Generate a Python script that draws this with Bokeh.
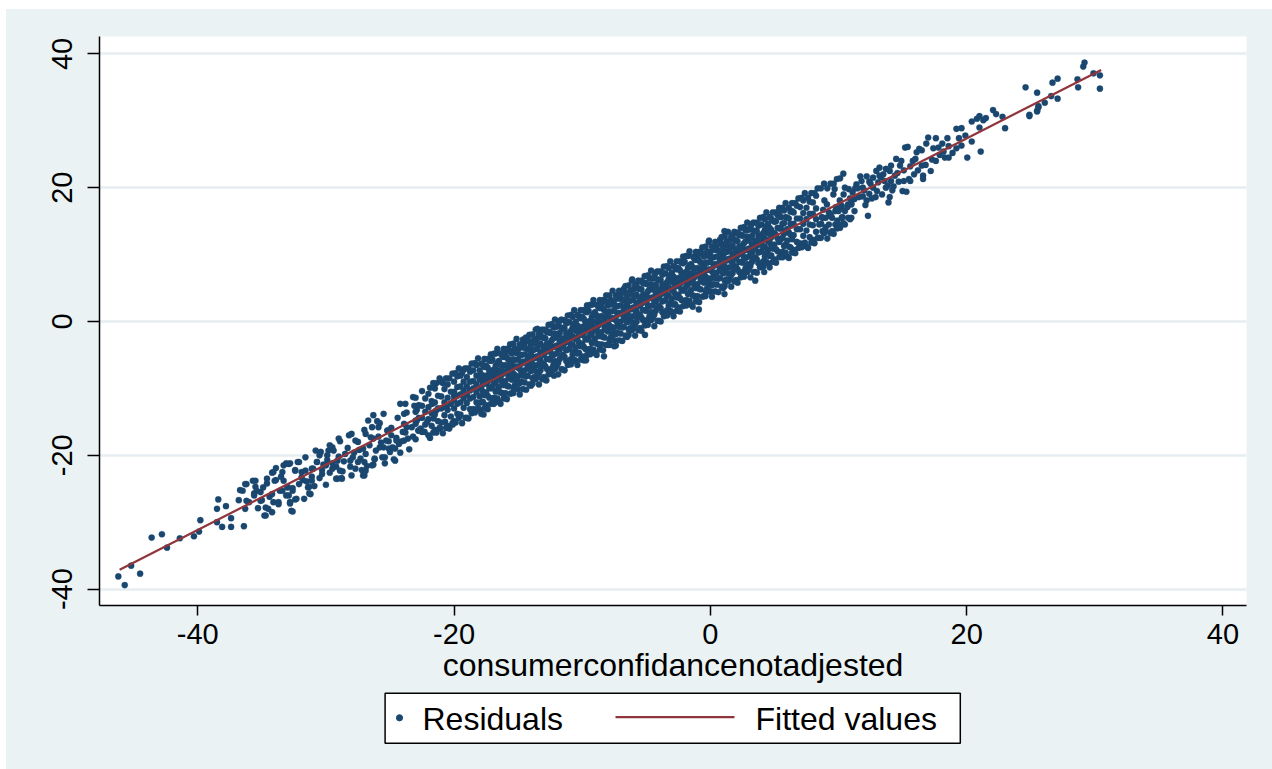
from bokeh.plotting import figure
from bokeh.models import ColumnDataSource, Range1d
from bokeh.layouts import column
from bokeh.embed import file_html
from bokeh.resources import INLINE
from bokeh.core.properties import value

# ---------------- data ----------------
x_label = "consumerconfidancenotadjested"
legend_labels = ["Residuals", "Fitted values"]
x_ticks = [-40, -20, 0, 20, 40]
x_tick_labels = ["-40", "-20", "0", "20", "40"]
y_ticks = [-40, -20, 0, 20, 40]
y_tick_labels = ["-40", "-20", "0", "20", "40"]

fit_x = [-46.1, 30.5]
fit_y = [-37.1, 37.6]

low_tail_x = [
    -46.2, -45.7, -45.2, -44.5, -43.6, -42.8, -42.4, -41.4, -40.3, -39.9, -39.8,
    -38.5, -38.1, -37.4, -36.4, -37.4, -38.5, -38.4, -37.8, -36.8, -36.3, -36.7,
    -35.7, -35.5, -35.1, -35.6, -35.0, -34.8, -34.2, -34.7, -34.6, -34.2, -33.9, -33.5,
    -33.3, -33.7, -33.1, -32.8, -32.7, -32.4, -33.0, -32.6, -32.4, -32.2, -32.8, -33.1,
    -31.8, -31.3, -31.3, -31.1, -31.1, -30.7, -30.5, -30.5, -30.3, -29.9, -29.8,
    -29.5, -29.2, -28.8, -29.2, -29.5, -28.5, -28.1, -28.0, -27.9, -27.7, -28.2,
    -27.2, -27.1, -26.9, -26.6, -26.9, -26.4, -26.1, -25.6, -25.5, -25.3, -25.2,
    -24.7, -24.8, -24.3, -24.0, -23.9, -23.3, -23.0, -22.8,
    -28.6, -27.5, -27.4, -26.3, -25.9, -25.0, -24.5, -24.2, -23.6, -23.7, -25.8, -30.0, -31.6,
    -31.9, -31.5, -30.9, -30.2, -29.7, -29.0, -28.7, -28.3, -27.8, -27.3, -26.8, -26.5,
    -26.2, -25.7, -25.4, -25.1, -24.9, -24.6, -24.1, -23.8, -23.5, -23.2, -22.9, -23.1,
    -24.4, -26.0, -27.0, -28.9, -30.8, -33.6, -34.4, -35.3, -36.0, -33.9, -31.7,
]
low_tail_y = [
    -38.1, -39.4, -36.5, -37.7, -32.3, -31.8, -33.8, -32.4, -32.1, -31.4, -29.7,
    -30.0, -30.7, -30.7, -30.6, -29.4, -28.0, -26.6, -27.6, -26.7, -24.3, -25.2,
    -23.8, -24.7, -25.5, -25.7, -26.7, -29.0, -28.5, -27.8, -24.2, -22.6, -23.7, -23.2,
    -21.5, -27.0, -26.0, -27.2, -28.3, -26.6, -24.7, -24.9, -22.2, -21.0, -21.2, -21.2,
    -23.7, -25.7, -24.7, -23.2, -22.0, -21.0, -20.0, -23.4, -22.2, -20.7, -19.3,
    -18.8, -23.5, -23.4, -21.7, -21.2, -19.8, -21.7, -23.0, -20.3, -17.8, -17.0,
    -22.2, -23.0, -19.8, -18.5, -16.8, -15.8, -19.3, -20.3, -18.8, -17.8, -16.3,
    -20.6, -18.8, -18.3, -16.5, -15.3, -15.8, -14.8, -16.3,
    -20.9, -21.0, -19.2, -21.4, -17.2, -19.5, -17.4, -19.6, -17.5, -13.6, -15.2, -24.4, -20.3,
    -22.5, -23.9, -24.6, -21.4, -22.6, -20.2, -22.4, -18.9, -19.6, -20.5, -21.6, -17.3,
    -20.6, -18.1, -21.2, -17.9, -15.9, -19.0, -17.9, -16.6, -19.1, -17.2, -13.2, -12.6,
    -14.4, -14.9, -16.2, -17.9, -19.3, -25.3, -26.2, -27.9, -27.0, -21.9, -26.5,
]

low_mid_x = [
    -36.5, -36.2, -35.5, -35.4, -35.6, -36.2, -36.3, -35.1, -34.7, -34.5, -34.9, -34.6,
    -34.1, -34.0, -34.2, -34.1, -33.7, -33.4, -33.3, -33.4, -32.9, -33.0, -32.6, -32.9,
    -32.8, -32.6, -32.3, -32.4, -32.1, -31.9, -31.6, -32.1, -31.4, -31.1, -31.2, -31.0,
    -30.7, -30.4, -30.3, -30.0, -29.9, -29.7, -29.4, -29.1, -29.5, -29.1, -28.75, -28.9,
    -29.0, -28.1, -27.7, -28.0, -27.5, -27.1, -27.0, -26.9, -27.0, -26.4, -26.3, -26.7,
    -26.3, -25.9, -25.8, -26.2, -25.4, -25.5, -25.2, -24.9, -24.6, -25.1, -24.5, -23.9,
    -24.2, -23.8, -23.7, -23.2, -22.9, -22.6, -22.3, -22.1, -21.6, -21.7, -21.1, -20.7,
    -21.4, -20.6, -20.0,
]
low_mid_y = [
    -25.3, -24.3, -23.8, -25.3, -26.0, -26.8, -28.0, -26.8, -29.0, -28.0, -24.8, -23.5,
    -22.5, -23.8, -25.8, -27.0, -27.3, -25.3, -23.8, -22.5, -21.3, -24.8, -25.3, -26.0,
    -27.0, -28.4, -26.5, -22.3, -21.0, -23.3, -22.3, -24.3, -24.8, -23.8, -25.8, -22.0,
    -21.0, -19.5, -22.8, -21.5, -20.0, -18.5, -19.3, -20.8, -22.0, -23.5, -23.5, -22.3,
    -17.5, -20.8, -22.0, -16.8, -18.0, -19.0, -21.0, -22.3, -23.0, -21.5, -17.5, -14.8,
    -14.0, -15.8, -18.8, -20.5, -20.3, -13.8, -16.3, -17.0, -20.8, -19.0, -17.8, -13.8,
    -12.3, -12.3, -15.8, -11.3, -14.8, -16.0, -16.5, -15.0, -14.5, -12.3, -16.0, -15.0,
    -13.3, -12.8, -11.1,
]

core_x = [
    -23.0, -22.75, -23.0, -22.75, -23.0, -22.75, -23.0,
    -22.5, -22.25, -22.5, -22.25, -22.5, -22.25, -22.5,
    -22.0, -21.75, -22.0, -21.75, -22.0, -21.75, -22.0,
    -21.5, -21.25, -21.5, -21.25, -21.5, -21.25, -21.5,
    -21.0, -20.75, -21.0, -20.75, -21.0, -20.75, -21.0,
    -20.5, -20.25, -20.5, -20.25, -20.5, -20.25, -20.5,
    -20.0, -19.75, -20.0, -19.75, -20.0, -19.75, -20.0, -19.75, -20.0, -19.75,
    -19.5, -19.25, -19.5, -19.25, -19.5, -19.25, -19.5, -19.25, -19.5, -19.25,
    -19.0, -18.75, -19.0, -18.75, -19.0, -18.75, -19.0, -18.75, -19.0, -18.75,
    -18.5, -18.25, -18.5, -18.25, -18.5, -18.25, -18.5, -18.25, -18.5, -18.25,
    -18.0, -17.75, -18.0, -17.75, -18.0, -17.75, -18.0, -17.75, -18.0, -17.75,
    -17.5, -17.25, -17.5, -17.25, -17.5, -17.25, -17.5, -17.25, -17.5, -17.25,
    -17.0, -16.75, -17.0, -16.75, -17.0, -16.75, -17.0, -16.75, -17.0, -16.75,
    -16.5, -16.25, -16.5, -16.25, -16.5, -16.25, -16.5, -16.25, -16.5, -16.25,
    -16.0, -15.75, -16.0, -15.75, -16.0, -15.75, -16.0, -15.75, -16.0, -15.75,
    -15.5, -15.25, -15.5, -15.25, -15.5, -15.25, -15.5, -15.25, -15.5, -15.25,
    -15.0, -14.75, -15.0, -14.75, -15.0, -14.75, -15.0, -14.75, -15.0, -14.75,
    -14.5, -14.25, -14.5, -14.25, -14.5, -14.25, -14.5, -14.25, -14.5, -14.25,
    -14.0, -13.75, -14.0, -13.75, -14.0, -13.75, -14.0, -13.75, -14.0, -13.75,
    -13.5, -13.25, -13.5, -13.25, -13.5, -13.25, -13.5, -13.25, -13.5, -13.25,
    -13.0, -12.75, -13.0, -12.75, -13.0, -12.75, -13.0, -12.75, -13.0, -12.75,
    -12.5, -12.25, -12.5, -12.25, -12.5, -12.25, -12.5, -12.25, -12.5, -12.25,
    -12.0, -11.75, -12.0, -11.75, -12.0, -11.75, -12.0, -11.75, -12.0, -11.75,
    -11.5, -11.25, -11.5, -11.25, -11.5, -11.25, -11.5, -11.25, -11.5, -11.25,
    -11.0, -10.75, -11.0, -10.75, -11.0, -10.75, -11.0, -10.75, -11.0, -10.75,
    -10.5, -10.25, -10.5, -10.25, -10.5, -10.25, -10.5, -10.25, -10.5, -10.25,
    -10.0, -9.75, -10.0, -9.75, -10.0, -9.75, -10.0, -9.75, -10.0, -9.75,
    -9.5, -9.25, -9.5, -9.25, -9.5, -9.25, -9.5, -9.25, -9.5, -9.25,
    -9.0, -8.75, -9.0, -8.75, -9.0, -8.75, -9.0, -8.75, -9.0, -8.75,
    -8.5, -8.25, -8.5, -8.25, -8.5, -8.25, -8.5, -8.25, -8.5, -8.25,
    -8.0, -7.75, -8.0, -7.75, -8.0, -7.75, -8.0, -7.75, -8.0, -7.75,
    -7.5, -7.25, -7.5, -7.25, -7.5, -7.25, -7.5, -7.25, -7.5, -7.25,
    -7.0, -6.75, -7.0, -6.75, -7.0, -6.75, -7.0, -6.75, -7.0, -6.75,
    -6.5, -6.25, -6.5, -6.25, -6.5, -6.25, -6.5, -6.25, -6.5, -6.25,
    -6.0, -5.75, -6.0, -5.75, -6.0, -5.75, -6.0, -5.75, -6.0, -5.75,
    -5.5, -5.25, -5.5, -5.25, -5.5, -5.25, -5.5, -5.25, -5.5, -5.25,
    -5.0, -4.75, -5.0, -4.75, -5.0, -4.75, -5.0, -4.75, -5.0, -4.75,
    -4.5, -4.25, -4.5, -4.25, -4.5, -4.25, -4.5, -4.25, -4.5, -4.25,
    -4.0, -3.75, -4.0, -3.75, -4.0, -3.75, -4.0, -3.75, -4.0, -3.75,
    -3.5, -3.25, -3.5, -3.25, -3.5, -3.25, -3.5, -3.25, -3.5, -3.25,
    -3.0, -2.75, -3.0, -2.75, -3.0, -2.75, -3.0, -2.75, -3.0, -2.75,
    -2.5, -2.25, -2.5, -2.25, -2.5, -2.25, -2.5, -2.25, -2.5, -2.25,
    -2.0, -1.75, -2.0, -1.75, -2.0, -1.75, -2.0, -1.75, -2.0, -1.75,
    -1.5, -1.25, -1.5, -1.25, -1.5, -1.25, -1.5, -1.25, -1.5, -1.25,
    -1.0, -0.75, -1.0, -0.75, -1.0, -0.75, -1.0, -0.75, -1.0, -0.75,
    -0.5, -0.25, -0.5, -0.25, -0.5, -0.25, -0.5, -0.25, -0.5, -0.25,
    0.0, 0.25, 0.0, 0.25, 0.0, 0.25, 0.0, 0.25, 0.0, 0.25,
    0.5, 0.75, 0.5, 0.75, 0.5, 0.75, 0.5, 0.75, 0.5, 0.75,
    1.0, 1.25, 1.0, 1.25, 1.0, 1.25, 1.0, 1.25, 1.0, 1.25,
    1.5, 1.75, 1.5, 1.75, 1.5, 1.75, 1.5, 1.75, 1.5, 1.75,
    2.0, 2.25, 2.0, 2.25, 2.0, 2.25, 2.0, 2.25, 2.0, 2.25,
    2.5, 2.75, 2.5, 2.75, 2.5, 2.75, 2.5, 2.75, 2.5, 2.75,
    3.0, 3.25, 3.0, 3.25, 3.0, 3.25, 3.0, 3.25, 3.0, 3.25,
    3.5, 3.75, 3.5, 3.75, 3.5, 3.75, 3.5, 3.75, 3.5, 3.75,
    4.0, 4.25, 4.0, 4.25, 4.0, 4.25, 4.0, 4.25, 4.0, 4.25,
    4.5, 4.75, 4.5, 4.75, 4.5, 4.75, 4.5, 4.75, 4.5, 4.75,
    5.0, 5.25, 5.0, 5.25, 5.0, 5.25, 5.0, 5.25,
    5.5, 5.75, 5.5, 5.75, 5.5, 5.75, 5.5, 5.75,
    6.0, 6.25, 6.0, 6.25, 6.0, 6.25, 6.0, 6.25,
    6.5, 6.75, 6.5, 6.75, 6.5, 6.75, 6.5, 6.75,
    7.0, 7.25, 7.0, 7.25, 7.0, 7.25, 7.0, 7.25,
    7.5, 7.75, 7.5, 7.75, 7.5, 7.75, 7.5, 7.75,
    8.0, 8.25, 8.0, 8.25, 8.0, 8.25, 8.0, 8.25,
    8.5, 8.75, 8.5, 8.75,
    9.0, 9.25, 9.0, 9.25,
    9.5, 9.75, 9.5, 9.75,
    10.0, 10.25, 10.0, 10.25,
    10.5, 10.75, 10.5, 10.75,
    11.0, 11.25, 11.0, 11.25,
]
core_y = [
    -17.6, -16.3, -15.3, -14.4, -13.5, -12.5, -11.4,
    -16.5, -15.4, -14.4, -13.5, -12.6, -11.5, -10.4,
    -17.0, -15.6, -14.6, -13.7, -12.8, -11.9, -10.8,
    -16.2, -14.9, -13.9, -13.0, -12.1, -11.1, -10.0,
    -15.1, -14.0, -13.0, -12.1, -11.2, -10.1, -9.0,
    -15.6, -14.2, -13.2, -12.3, -11.4, -10.5, -9.4,
    -14.9, -13.8, -13.0, -12.3, -11.7, -11.1, -10.5, -9.8, -9.0, -8.2,
    -13.9, -12.9, -12.1, -11.5, -10.9, -10.3, -9.7, -9.0, -8.1, -7.2,
    -14.4, -13.1, -12.2, -11.5, -10.9, -10.3, -9.7, -9.0, -8.3, -7.5,
    -13.1, -12.1, -11.3, -10.6, -10.0, -9.4, -8.9, -8.1, -7.3, -6.5,
    -13.2, -12.0, -11.2, -10.5, -9.9, -9.3, -8.7, -8.2, -7.3, -6.5,
    -12.5, -11.4, -10.6, -9.9, -9.3, -8.7, -8.1, -7.4, -6.6, -5.8,
    -11.5, -10.5, -9.7, -9.1, -8.5, -7.9, -7.3, -6.6, -5.7, -4.8,
    -12.0, -10.7, -9.8, -9.1, -8.5, -7.9, -7.3, -6.6, -5.9, -5.1,
    -10.7, -9.7, -8.9, -8.2, -7.6, -7.0, -6.5, -5.7, -4.9, -4.1,
    -10.7, -9.5, -8.7, -8.0, -7.4, -6.8, -6.2, -5.7, -4.8, -4.0,
    -10.1, -9.0, -8.2, -7.5, -6.9, -6.3, -5.7, -5.0, -4.2, -3.4,
    -9.1, -8.1, -7.3, -6.7, -6.1, -5.5, -4.9, -4.2, -3.3, -2.4,
    -9.6, -8.3, -7.4, -6.7, -6.1, -5.5, -4.9, -4.2, -3.5, -2.7,
    -8.3, -7.3, -6.5, -5.8, -5.2, -4.6, -4.1, -3.3, -2.5, -1.7,
    -8.3, -7.1, -6.3, -5.6, -5.0, -4.4, -3.8, -3.3, -2.4, -1.6,
    -7.6, -6.5, -5.7, -5.0, -4.4, -3.8, -3.2, -2.5, -1.7, -0.9,
    -6.6, -5.6, -4.8, -4.2, -3.6, -3.0, -2.4, -1.7, -0.8, 0.1,
    -7.2, -5.9, -5.0, -4.3, -3.7, -3.1, -2.5, -1.8, -1.1, -0.3,
    -5.9, -4.9, -4.1, -3.4, -2.8, -2.2, -1.7, -0.9, -0.1, 0.7,
    -5.9, -4.7, -3.9, -3.2, -2.6, -2.0, -1.4, -0.9, 0.0, 0.8,
    -5.2, -4.1, -3.3, -2.6, -2.0, -1.4, -0.8, -0.1, 0.7, 1.5,
    -4.2, -3.2, -2.4, -1.8, -1.2, -0.6, 0.0, 0.7, 1.6, 2.5,
    -4.7, -3.4, -2.5, -1.8, -1.2, -0.6, 0.0, 0.7, 1.4, 2.2,
    -3.4, -2.4, -1.6, -0.9, -0.3, 0.3, 0.8, 1.6, 2.4, 3.2,
    -3.5, -2.3, -1.5, -0.8, -0.2, 0.4, 1.0, 1.5, 2.4, 3.2,
    -2.8, -1.7, -0.9, -0.2, 0.4, 1.0, 1.6, 2.3, 3.1, 3.9,
    -1.8, -0.8, 0.0, 0.6, 1.2, 1.8, 2.4, 3.1, 4.0, 4.9,
    -2.3, -1.0, -0.1, 0.6, 1.2, 1.8, 2.4, 3.1, 3.8, 4.6,
    -1.0, 0.0, 0.8, 1.5, 2.1, 2.7, 3.2, 4.0, 4.8, 5.6,
    -1.0, 0.2, 1.0, 1.7, 2.3, 2.9, 3.5, 4.0, 4.9, 5.7,
    -0.3, 0.8, 1.6, 2.3, 2.9, 3.5, 4.1, 4.8, 5.6, 6.4,
    0.6, 1.6, 2.4, 3.0, 3.6, 4.2, 4.8, 5.5, 6.4, 7.3,
    0.1, 1.4, 2.3, 3.0, 3.6, 4.2, 4.8, 5.5, 6.2, 7.0,
    1.4, 2.4, 3.2, 3.9, 4.5, 5.1, 5.6, 6.4, 7.2, 8.0,
    1.4, 2.6, 3.4, 4.1, 4.7, 5.3, 5.9, 6.4, 7.3, 8.1,
    2.1, 3.2, 4.0, 4.7, 5.3, 5.9, 6.5, 7.2, 8.0, 8.8,
    3.1, 4.1, 4.9, 5.5, 6.1, 6.7, 7.3, 8.0, 8.9, 9.8,
    2.5, 3.8, 4.7, 5.4, 6.0, 6.6, 7.2, 7.9, 8.6, 9.4,
    3.8, 4.8, 5.6, 6.3, 6.9, 7.5, 8.0, 8.8, 9.6, 10.4,
    3.8, 5.0, 5.8, 6.5, 7.1, 7.7, 8.3, 8.8, 9.7, 10.5,
    4.5, 5.6, 6.4, 7.1, 7.7, 8.3, 8.9, 9.6, 10.4, 11.2,
    5.5, 6.5, 7.3, 7.9, 8.5, 9.1, 9.7, 10.4, 11.3, 12.2,
    5.0, 6.3, 7.2, 7.9, 8.5, 9.1, 9.7, 10.4, 11.1, 11.9,
    6.3, 7.3, 8.1, 8.8, 9.4, 10.0, 10.5, 11.3, 12.1, 12.9,
    6.2, 7.4, 8.2, 8.9, 9.5, 10.1, 10.7, 11.2, 12.1, 12.9,
    6.9, 8.0, 8.8, 9.5, 10.1, 10.7, 11.3, 12.0, 12.8, 13.6,
    7.9, 8.9, 9.7, 10.3, 10.9, 11.5, 12.1, 12.8, 13.7, 14.6,
    7.4, 8.7, 9.6, 10.3, 10.9, 11.5, 12.1, 12.8, 13.5, 14.3,
    8.7, 9.7, 10.5, 11.2, 11.8, 12.4, 12.9, 13.7, 14.5, 15.3,
    8.7, 9.9, 10.7, 11.4, 12.0, 12.6, 13.2, 13.7, 14.6, 15.4,
    9.3, 10.5, 11.5, 12.4, 13.2, 14.0, 14.9, 15.9,
    10.2, 11.3, 12.3, 13.1, 13.9, 14.7, 15.6, 16.6,
    9.7, 11.1, 12.1, 13.0, 13.8, 14.6, 15.5, 16.4,
    10.7, 11.9, 12.9, 13.8, 14.6, 15.4, 16.3, 17.3,
    11.7, 12.8, 13.8, 14.6, 15.4, 16.2, 17.1, 18.1,
    11.2, 12.6, 13.6, 14.5, 15.3, 16.1, 17.0, 17.9,
    12.2, 13.4, 14.4, 15.3, 16.1, 16.9, 17.8, 18.8,
    12.5, 13.5, 14.5, 15.5,
    13.5, 14.5, 15.5, 16.3,
    13.5, 14.5, 15.5, 16.5,
    14.5, 15.5, 16.5, 17.3,
    14.5, 15.5, 16.5, 17.5,
    15.5, 16.5, 17.5, 18.3,
]

core2_x = [
    -17.875, -17.625, -17.875, -17.625, -17.875, -17.625,
    -17.375, -17.125, -17.375, -17.125, -17.375, -17.125,
    -16.875, -16.625, -16.875, -16.625, -16.875, -16.625,
    -16.375, -16.125, -16.375, -16.125, -16.375, -16.125,
    -15.875, -15.625, -15.875, -15.625, -15.875, -15.625,
    -15.375, -15.125, -15.375, -15.125, -15.375, -15.125,
    -14.875, -14.625, -14.875, -14.625, -14.875, -14.625,
    -14.375, -14.125, -14.375, -14.125, -14.375, -14.125,
    -13.875, -13.625, -13.875, -13.625, -13.875, -13.625,
    -13.375, -13.125, -13.375, -13.125, -13.375, -13.125,
    -12.875, -12.625, -12.875, -12.625, -12.875, -12.625,
    -12.375, -12.125, -12.375, -12.125, -12.375, -12.125,
    -11.875, -11.625, -11.875, -11.625, -11.875, -11.625,
    -11.375, -11.125, -11.375, -11.125, -11.375, -11.125,
    -10.875, -10.625, -10.875, -10.625, -10.875, -10.625,
    -10.375, -10.125, -10.375, -10.125, -10.375, -10.125,
    -9.875, -9.625, -9.875, -9.625, -9.875, -9.625,
    -9.375, -9.125, -9.375, -9.125, -9.375, -9.125,
    -8.875, -8.625, -8.875, -8.625, -8.875, -8.625,
    -8.375, -8.125, -8.375, -8.125, -8.375, -8.125,
    -7.875, -7.625, -7.875, -7.625, -7.875, -7.625,
    -7.375, -7.125, -7.375, -7.125, -7.375, -7.125,
    -6.875, -6.625, -6.875, -6.625, -6.875, -6.625,
    -6.375, -6.125, -6.375, -6.125, -6.375, -6.125,
    -5.875, -5.625, -5.875, -5.625, -5.875, -5.625,
    -5.375, -5.125, -5.375, -5.125, -5.375, -5.125,
    -4.875, -4.625, -4.875, -4.625, -4.875, -4.625,
    -4.375, -4.125, -4.375, -4.125, -4.375, -4.125,
    -3.875, -3.625, -3.875, -3.625, -3.875, -3.625,
    -3.375, -3.125, -3.375, -3.125, -3.375, -3.125,
    -2.875, -2.625, -2.875, -2.625, -2.875, -2.625,
    -2.375, -2.125, -2.375, -2.125, -2.375, -2.125,
    -1.875, -1.625, -1.875, -1.625, -1.875, -1.625,
    -1.375, -1.125, -1.375, -1.125, -1.375, -1.125,
    -0.875, -0.625, -0.875, -0.625, -0.875, -0.625,
    -0.375, -0.125, -0.375, -0.125, -0.375, -0.125,
    0.125, 0.375, 0.125, 0.375, 0.125, 0.375,
    0.625, 0.875, 0.625, 0.875, 0.625, 0.875,
    1.125, 1.375, 1.125, 1.375, 1.125, 1.375,
    1.625, 1.875, 1.625, 1.875, 1.625, 1.875,
    2.125, 2.375, 2.125, 2.375, 2.125, 2.375,
    2.625, 2.875, 2.625, 2.875, 2.625, 2.875,
    3.125, 3.375, 3.125, 3.375, 3.125, 3.375,
    3.625, 3.875, 3.625, 3.875, 3.625, 3.875,
    4.125, 4.375, 4.125, 4.375, 4.125, 4.375,
    4.625, 4.875, 4.625, 4.875, 4.625, 4.875,
    5.125, 5.375, 5.125, 5.375, 5.125, 5.375,
    5.625, 5.875, 5.625, 5.875, 5.625, 5.875,
    6.125, 6.375, 6.125, 6.375, 6.125, 6.375,
]
core2_y = [
    -12.1, -11.0, -10.0, -8.9, -7.9, -6.8,
    -11.1, -10.0, -9.0, -8.0, -6.9, -5.9,
    -11.4, -10.3, -9.3, -8.2, -7.2, -6.2,
    -10.6, -9.5, -8.5, -7.4, -6.4, -5.3,
    -9.6, -8.5, -7.5, -6.5, -5.4, -4.4,
    -9.9, -8.8, -7.8, -6.7, -5.7, -4.7,
    -9.2, -8.1, -7.1, -6.0, -5.0, -3.9,
    -8.2, -7.1, -6.1, -5.1, -4.0, -3.0,
    -8.5, -7.4, -6.4, -5.3, -4.3, -3.3,
    -7.7, -6.6, -5.6, -4.5, -3.5, -2.4,
    -6.7, -5.6, -4.6, -3.6, -2.5, -1.5,
    -7.0, -5.9, -4.9, -3.8, -2.8, -1.8,
    -6.2, -5.1, -4.1, -3.0, -2.0, -0.9,
    -5.3, -4.2, -3.2, -2.2, -1.1, -0.1,
    -5.6, -4.5, -3.5, -2.4, -1.4, -0.4,
    -4.8, -3.7, -2.7, -1.6, -0.6, 0.5,
    -3.8, -2.7, -1.7, -0.7, 0.4, 1.4,
    -4.1, -3.0, -2.0, -0.9, 0.1, 1.1,
    -3.3, -2.2, -1.2, -0.1, 0.9, 2.0,
    -2.3, -1.2, -0.2, 0.8, 1.9, 2.9,
    -2.7, -1.6, -0.6, 0.5, 1.5, 2.5,
    -1.9, -0.8, 0.2, 1.3, 2.3, 3.4,
    -0.9, 0.2, 1.2, 2.2, 3.3, 4.3,
    -1.2, -0.1, 0.9, 2.0, 3.0, 4.0,
    -0.4, 0.7, 1.7, 2.8, 3.8, 4.9,
    0.6, 1.7, 2.7, 3.7, 4.8, 5.8,
    0.3, 1.4, 2.4, 3.5, 4.5, 5.5,
    1.0, 2.1, 3.1, 4.2, 5.2, 6.3,
    2.0, 3.1, 4.1, 5.1, 6.2, 7.2,
    1.7, 2.8, 3.8, 4.9, 5.9, 6.9,
    2.5, 3.6, 4.6, 5.7, 6.7, 7.8,
    3.5, 4.6, 5.6, 6.6, 7.7, 8.7,
    3.2, 4.3, 5.3, 6.4, 7.4, 8.4,
    3.9, 5.0, 6.0, 7.1, 8.1, 9.2,
    4.9, 6.0, 7.0, 8.0, 9.1, 10.1,
    4.6, 5.7, 6.7, 7.8, 8.8, 9.8,
    5.4, 6.5, 7.5, 8.6, 9.6, 10.7,
    6.4, 7.5, 8.5, 9.5, 10.6, 11.6,
    6.1, 7.2, 8.2, 9.3, 10.3, 11.3,
    6.9, 8.0, 9.0, 10.1, 11.1, 12.2,
    7.8, 8.9, 9.9, 10.9, 12.0, 13.0,
    7.5, 8.6, 9.6, 10.7, 11.7, 12.7,
    8.3, 9.4, 10.4, 11.5, 12.5, 13.6,
    9.3, 10.4, 11.4, 12.4, 13.5, 14.5,
    9.0, 10.1, 11.1, 12.2, 13.2, 14.2,
    9.8, 10.9, 11.9, 13.0, 14.0, 15.1,
    10.8, 11.9, 12.9, 13.9, 15.0, 16.0,
    10.4, 11.5, 12.5, 13.6, 14.6, 15.6,
    11.2, 12.3, 13.3, 14.4, 15.4, 16.5,
]

edge_x = [
    -21.875, -21.625, -21.875, -21.625,
    -21.375, -21.125, -21.375, -21.125,
    -20.875, -20.625, -20.875, -20.625,
    -20.375, -20.125, -20.375, -20.125,
    -19.875, -19.625, -19.875, -19.625,
    -19.375, -19.125, -19.375, -19.125,
    -18.875, -18.625, -18.875, -18.625,
    -18.375, -18.125, -18.375, -18.125,
    -17.875, -17.625, -17.875, -17.625,
    -17.375, -17.125, -17.375, -17.125,
    -16.875, -16.625, -16.875, -16.625,
    -16.375, -16.125, -16.375, -16.125,
    -15.875, -15.625, -15.875, -15.625,
    -15.375, -15.125, -15.375, -15.125,
    -14.875, -14.625, -14.875, -14.625,
    -14.375, -14.125, -14.375, -14.125,
    -13.875, -13.625, -13.875, -13.625,
    -13.375, -13.125, -13.375, -13.125,
    -12.875, -12.625, -12.875, -12.625,
    -12.375, -12.125, -12.375, -12.125,
    -11.875, -11.625, -11.875, -11.625,
    -11.375, -11.125, -11.375, -11.125,
    -10.875, -10.625, -10.875, -10.625,
    -10.375, -10.125, -10.375, -10.125,
    -9.875, -9.625, -9.875, -9.625,
    -9.375, -9.125, -9.375, -9.125,
    -8.875, -8.625, -8.875, -8.625,
    -8.375, -8.125, -8.375, -8.125,
    -7.875, -7.625, -7.875, -7.625,
    -7.375, -7.125, -7.375, -7.125,
    -6.875, -6.625, -6.875, -6.625,
    -6.375, -6.125, -6.375, -6.125,
    -5.875, -5.625, -5.875, -5.625,
    -5.375, -5.125, -5.375, -5.125,
    -4.875, -4.625, -4.875, -4.625,
    -4.375, -4.125, -4.375, -4.125,
    -3.875, -3.625, -3.875, -3.625,
    -3.375, -3.125, -3.375, -3.125,
    -2.875, -2.625, -2.875, -2.625,
    -2.375, -2.125, -2.375, -2.125,
    -1.875, -1.625, -1.875, -1.625,
    -1.375, -1.125, -1.375, -1.125,
    -0.875, -0.625, -0.875, -0.625,
    -0.375, -0.125, -0.375, -0.125,
    0.125, 0.375, 0.125, 0.375,
    0.625, 0.875, 0.625, 0.875,
    1.125, 1.375, 1.125, 1.375,
    1.625, 1.875, 1.625, 1.875,
    2.125, 2.375, 2.125, 2.375,
    2.625, 2.875, 2.625, 2.875,
    3.125, 3.375, 3.125, 3.375,
    3.625, 3.875, 3.625, 3.875,
    4.125, 4.375, 4.125, 4.375,
    4.625, 4.875, 4.625, 4.875,
    5.125, 5.375, 5.125, 5.375,
    5.625, 5.875, 5.625, 5.875,
    6.125, 6.375, 6.125, 6.375,
    6.625, 6.875, 6.625, 6.875,
    7.125, 7.375, 7.125, 7.375,
    7.625, 7.875, 7.625, 7.875,
    8.125, 8.375, 8.125, 8.375,
    8.625, 8.875, 8.625, 8.875,
    9.125, 9.375, 9.125, 9.375,
    9.625, 9.875, 9.625, 9.875,
    10.125, 10.375, 10.125, 10.375,
]
edge_y = [
    -17.4, -16.6, -9.9, -9.2,
    -16.6, -15.9, -9.2, -8.5,
    -16.7, -15.9, -9.2, -8.5,
    -16.0, -15.2, -8.5, -7.8,
    -15.1, -14.4, -7.7, -7.0,
    -15.2, -14.4, -7.7, -7.0,
    -14.5, -13.7, -7.0, -6.3,
    -13.6, -12.9, -6.2, -5.5,
    -13.8, -13.0, -6.3, -5.6,
    -13.1, -12.3, -5.6, -4.9,
    -12.2, -11.5, -4.8, -4.1,
    -12.3, -11.5, -4.8, -4.1,
    -11.6, -10.8, -4.1, -3.4,
    -10.7, -10.0, -3.3, -2.6,
    -10.9, -10.1, -3.4, -2.7,
    -10.2, -9.4, -2.7, -2.0,
    -9.3, -8.6, -1.9, -1.2,
    -9.4, -8.6, -1.9, -1.2,
    -8.7, -7.9, -1.2, -0.5,
    -7.8, -7.1, -0.4, 0.3,
    -7.9, -7.1, -0.4, 0.3,
    -7.3, -6.5, 0.2, 0.9,
    -6.4, -5.7, 1.0, 1.7,
    -6.5, -5.7, 1.0, 1.7,
    -5.8, -5.0, 1.7, 2.4,
    -4.9, -4.2, 2.5, 3.2,
    -5.0, -4.2, 2.5, 3.2,
    -4.3, -3.5, 3.2, 3.9,
    -3.5, -2.8, 3.9, 4.6,
    -3.6, -2.8, 3.9, 4.6,
    -2.9, -2.1, 4.6, 5.3,
    -2.0, -1.3, 5.4, 6.1,
    -2.1, -1.3, 5.4, 6.1,
    -1.4, -0.6, 6.1, 6.8,
    -0.5, 0.2, 6.9, 7.6,
    -0.7, 0.1, 6.8, 7.5,
    0.0, 0.8, 7.5, 8.2,
    0.9, 1.6, 8.3, 9.0,
    0.8, 1.6, 8.3, 9.0,
    1.5, 2.3, 9.0, 9.7,
    2.4, 3.1, 9.8, 10.5,
    2.2, 3.0, 9.7, 10.4,
    2.9, 3.7, 10.4, 11.1,
    3.8, 4.5, 11.2, 11.9,
    3.7, 4.5, 11.2, 11.9,
    4.4, 5.2, 11.9, 12.6,
    5.3, 6.0, 12.7, 13.4,
    5.2, 6.0, 12.7, 13.4,
    5.8, 6.6, 13.3, 14.0,
    6.7, 7.4, 14.1, 14.8,
    6.6, 7.4, 14.1, 14.8,
    7.3, 8.1, 14.8, 15.5,
    8.2, 8.9, 15.6, 16.3,
    8.1, 8.9, 15.6, 16.3,
    8.8, 9.6, 16.3, 17.0,
    9.6, 10.3, 17.0, 17.7,
    9.5, 10.3, 17.0, 17.7,
    10.2, 11.0, 17.7, 18.4,
    11.1, 11.8, 18.5, 19.2,
    11.0, 11.8, 18.5, 19.2,
    11.7, 12.5, 19.2, 19.9,
    12.5, 13.2, 19.9, 20.6,
    12.4, 13.2, 19.9, 20.6,
    13.1, 13.9, 20.6, 21.3,
    14.0, 14.7, 21.4, 22.1,
]

high_tail_x = [
    8.65, 8.8, 8.9, 9.0, 9.3, 9.6, 9.7, 9.8, 9.9, 10.1, 10.3, 10.4, 10.5, 10.7,
    10.8, 10.9, 11.0, 11.1, 11.4, 11.6,
    11.7, 11.8, 11.9, 12.2, 12.2, 12.3, 12.4, 12.7, 12.7, 12.95,
    13.1, 13.2, 13.5, 13.6, 13.85, 13.9, 14.0, 14.0, 14.1, 14.1,
    14.4, 14.5, 14.8, 14.9, 15.0, 15.1, 15.2, 15.3, 15.4, 15.5,
    15.8, 15.9, 16.1, 16.3, 16.5, 16.5, 16.6, 16.6, 16.85, 17.0,
    17.2, 17.4, 17.6, 17.6, 17.9, 18.1, 18.3, 18.5, 18.6, 18.6,
    19.2, 19.2, 19.6, 19.6, 20.05, 20.4, 20.4, 20.8, 21.0, 21.0,
    21.1, 21.3, 21.5, 22.06, 22.3, 22.8, 23.0, 24.6, 24.9, 24.9,
    25.5, 25.5, 25.5, 25.6, 25.6, 26.1, 26.6, 26.7, 27.1, 27.1,
    28.65, 28.7, 29.1, 29.2, 29.9, 30.4, 30.4,
    11.5, 12.0, 12.5, 12.9, 13.0, 13.3, 13.7, 14.3, 14.6, 15.6, 16.0,
    12.1, 12.6, 13.4, 13.7, 14.2, 14.7, 15.1, 15.6, 16.2, 16.8, 17.3, 17.8, 18.2,
    18.9, 19.4, 19.9, 13.2, 12.4, 11.9, 11.3, 10.9, 10.2, 9.4, 9.1, 8.7,
]
high_tail_y = [
    14.6, 16.7, 18.1, 14.1, 15.8, 19.0, 19.8, 17.1, 15.1, 18.1, 15.6, 19.0, 20.0, 17.1,
    19.8, 15.3, 17.6, 19.3, 20.5, 18.6,
    21.7, 21.0, 20.0, 21.7, 18.1, 15.8, 19.1, 21.5, 20.0, 22.5,
    20.8, 23.0, 22.0, 21.0, 20.3, 17.8, 18.6, 22.5, 23.3, 21.0,
    21.8, 24.3, 23.3, 24.0, 19.5, 21.0, 26.0, 19.4, 26.1, 21.3,
    24.0, 22.0, 25.3, 25.8, 25.6, 23.3, 21.8, 21.3, 26.6, 27.5,
    22.5, 25.9, 27.4, 24.0, 24.9, 26.6, 24.5, 27.4, 26.2, 24.5,
    28.8, 25.9, 28.9, 26.3, 24.5, 29.9, 26.9, 30.3, 30.7, 29.0,
    25.4, 30.1, 30.4, 31.6, 31.0, 30.6, 28.9, 35.0, 30.9, 30.7,
    34.2, 31.5, 31.4, 32.2, 32.0, 32.7, 33.7, 35.7, 36.3, 33.3,
    36.2, 35.0, 38.1, 38.7, 37.1, 36.8, 34.8,
    19.9, 19.6, 20.6, 18.6, 19.5, 21.6, 22.8, 20.2, 22.2, 23.2, 24.3,
    17.4, 18.4, 19.0, 20.0, 19.6, 20.9, 22.6, 21.0, 22.6, 23.4, 24.2, 26.0, 25.4,
    25.2, 27.4, 27.8, 21.8, 20.9, 18.7, 19.9, 18.4, 16.9, 16.0, 17.5, 15.6,
]

outlier_x = [-5.1, -0.9, 3.5, -8.3, -7.5, -9.7, -13.5, -14.4, 1.1, -0.1, -6.1,
             -16.9, -17.7, -20.1, -23.9, 5.4, -12.2, -12.8, 1.1, 4.2, 8.0]
outlier_y = [-2.0, 1.8, 6.1, -5.2, -3.7, -5.8, -1.1, -2.4, 13.5, 12.1, 6.3,
             -12.3, -13.9, -15.4, -17.8, 16.8, -8.1, -8.8, 4.1, 7.4, 12.1]

# ---------------- styling ----------------
BG = "#EAF2F3"
NAVY = "#1A476F"
MAROON = "#90353B"
GRID = "#E6EEF1"
FONT = "Liberation Sans"
W = 1266

resid_x = low_tail_x + low_mid_x + core_x + core2_x + edge_x + high_tail_x + outlier_x
resid_y = low_tail_y + low_mid_y + core_y + core2_y + edge_y + high_tail_y + outlier_y
n = min(len(resid_x), len(resid_y))
src = ColumnDataSource(dict(x=resid_x[:n], y=resid_y[:n]))

p = figure(width=W, height=681, output_backend="svg", toolbar_location=None,
           x_range=Range1d(-47.67, 41.84), y_range=Range1d(-42.45, 42.6),
           min_border_left=93, min_border_right=26, min_border_top=27, min_border_bottom=85)
p.background_fill_color = "white"
p.border_fill_color = BG
p.outline_line_color = None

p.xgrid.visible = False
p.ygrid.ticker = y_ticks
p.ygrid.grid_line_color = GRID
p.ygrid.grid_line_width = 2.5

p.scatter("x", "y", source=src, size=6.2, fill_color=NAVY, line_color=NAVY, line_width=0.3)
p.line(fit_x, fit_y, line_color=MAROON, line_width=2.2)

for ax in (p.xaxis[0], p.yaxis[0]):
    ax.axis_line_color = "black"
    ax.axis_line_width = 1.5
    ax.major_tick_line_color = "black"
    ax.major_tick_line_width = 1.5
    ax.major_tick_in = 0
    ax.minor_tick_in = 0
    ax.minor_tick_out = 0
    ax.major_label_text_font = FONT
    ax.major_label_text_font_size = "29px"
    ax.major_label_text_color = "black"

p.xaxis.ticker = x_ticks
p.xaxis.major_label_overrides = dict(zip(x_ticks, x_tick_labels))
p.xaxis.major_tick_out = 10
p.xaxis.major_label_standoff = 8
p.xaxis.axis_label = x_label
p.xaxis.axis_label_text_font = FONT
p.xaxis.axis_label_text_font_size = "32px"
p.xaxis.axis_label_text_font_style = "normal"
p.xaxis.axis_label_text_color = "black"
p.xaxis.axis_label_standoff = 0

p.yaxis.ticker = y_ticks
p.yaxis.major_label_overrides = dict(zip(y_ticks, y_tick_labels))
p.yaxis.major_tick_out = 12
p.yaxis.major_label_standoff = 15
p.yaxis.major_label_orientation = "vertical"

# ---------------- legend panel (frame aligned with the plot frame) ----------------
lg = figure(width=W, height=79, output_backend="svg", toolbar_location=None,
            x_range=Range1d(93, 1240), y_range=Range1d(0, 79),
            x_axis_location=None, y_axis_location=None, min_border=0)
lg.background_fill_color = BG
lg.border_fill_color = BG
lg.outline_line_color = None
lg.grid.visible = False

lg.quad(left=[378.6], right=[953.8], bottom=[26.3], top=[76.3],
        fill_color="white", line_color="black", line_width=1.5)
lg.scatter(x=[393], y=[51.7], size=6.2, fill_color=NAVY, line_color=NAVY)
lg.segment(x0=[609], y0=[52.3], x1=[728], y1=[52.3], line_color=MAROON, line_width=2.2)
lg.text(x=[416, 749], y=[50.7, 50.7], text=legend_labels, text_font=value(FONT),
        text_font_size="32px", text_baseline="alphabetic", text_align="left",
        text_color="black")

layout = column(p, lg, spacing=0, margin=(9, 0, 0, 6),
                styles={"background-color": BG})
open("out.html", "w").write(file_html(layout, INLINE))
